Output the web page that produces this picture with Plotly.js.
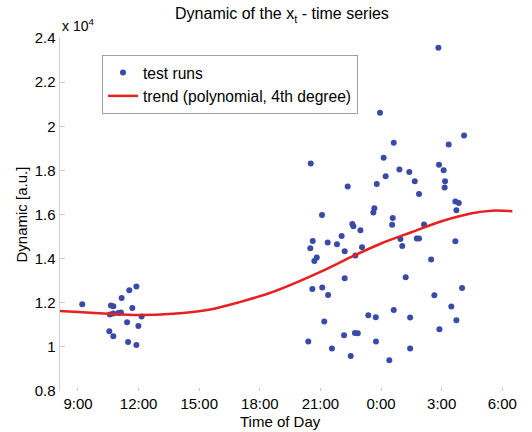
<!DOCTYPE html>
<html>
<head>
<meta charset="utf-8">
<script src="https://cdn.plot.ly/plotly-3.0.1.min.js"></script>
<style>
  html, body { margin: 0; padding: 0; background: #ffffff; }
  #chart { width: 532px; height: 432px; }
</style>
</head>
<body>
<div id="chart"></div>
<script>
// Test runs: hour of day (values above 24 are after midnight) and dynamic [a.u.]
const runHours = [
  9.21, 10.63, 10.75, 11.16, 11.54, 11.89, 11.69, 10.58, 10.75, 11.00,
  11.13, 12.15, 11.43, 11.99, 10.55, 10.75, 11.48, 11.89,
  20.52, 24.63, 24.13, 24.91, 24.23, 23.79, 22.35, 21.08, 23.67, 23.62,
  24.58, 24.55, 22.58, 22.63, 22.98, 22.05, 20.62, 20.50, 21.36, 21.82,
  23.06, 22.20, 22.73, 20.82, 20.70, 22.20, 20.60, 21.09, 21.38, 24.63,
  23.37, 23.74, 21.19, 22.17, 22.71, 22.85, 20.40, 23.75, 21.57, 22.50,
  24.41,
  26.84, 23.95, 28.11, 27.35, 26.87, 25.40, 27.10, 25.67, 27.17, 27.15,
  25.88, 27.68, 27.85, 27.73, 26.13, 24.96, 25.77, 25.88, 25.05, 27.68,
  26.48, 25.22, 28.01, 26.64, 27.48, 25.44, 27.73, 26.89, 25.44
];
const runValues = [
  11930, 11873, 11842, 12218, 12567, 12735, 11765, 11465, 11511, 11538,
  11556, 11375, 11116, 10948, 10708, 10481, 10223, 10087,
  18313, 19247, 18567, 18041, 17737, 17388, 17270, 15982, 16286, 16091,
  15846, 15538, 15574, 15470, 15288, 15030, 14803, 14472, 14730, 14653,
  14517, 14336, 14141, 14050, 13896, 13111, 12626, 12690, 12354, 11674,
  11433, 11343, 11148, 10526, 10631, 10617, 10241, 10241, 9923, 9588,
  9393,
  23556, 20608, 19583, 19175, 18250, 17932, 18009, 17510, 17510, 17225,
  16934, 16590, 16526, 16195, 15547, 14894, 14912, 14912, 14576, 14789,
  13960, 13157, 12672, 12341, 11828, 11329, 11207, 10799, 9923
];

// Trend curve (4th degree polynomial fit)
const trendHours  = [8.11, 9.0, 10.5, 12.0, 13.7, 15.4, 17.0, 18.65, 21.0, 22.5, 24.0, 25.5, 27.0, 28.5, 29.5, 30.5];
const trendValues = [11629, 11583, 11500, 11445, 11500, 11670, 12030, 12490, 13397, 14064, 14685, 15197, 15696, 16059, 16173, 16150];

// Axis ticks
const xTickVals  = [9, 12, 15, 18, 21, 24, 27, 30];
const xTickText  = ['9:00', '12:00', '15:00', '18:00', '21:00', '0:00', '3:00', '6:00'];
const yTickVals  = [8000, 10000, 12000, 14000, 16000, 18000, 20000, 22000, 24000];
const yTickText  = ['0.8', '1', '1.2', '1.4', '1.6', '1.8', '2', '2.2', '2.4'];

const FONT = '"Liberation Sans", Arial, sans-serif';

const traces = [
  {
    x: runHours, y: runValues,
    type: 'scatter', mode: 'markers',
    name: 'test runs',
    marker: { color: '#3a4aa8', size: 6 }
  },
  {
    x: trendHours, y: trendValues,
    type: 'scatter', mode: 'lines',
    name: 'trend (polynomial, 4th degree)',
    line: { color: '#e8201e', width: 2.5, shape: 'spline', smoothing: 0.9 }
  }
];

const layout = {
  width: 532, height: 432,
  margin: { l: 60, r: 14, t: 38, b: 41 },
  paper_bgcolor: '#ffffff', plot_bgcolor: '#ffffff',
  font: { family: FONT, size: 15, color: '#000000' },
  showlegend: true,
  title: {
    text: 'Dynamic of the x<sub>t</sub> - time series',
    font: { family: FONT, size: 16, color: '#000000' },
    xref: 'container', x: 0.53, xanchor: 'center',
    yref: 'container', y: 0.968, yanchor: 'middle'
  },
  xaxis: {
    range: [8.11, 30.78],
    tickvals: xTickVals, ticktext: xTickText,
    showgrid: false, zeroline: false, showline: false,
    ticks: 'inside', ticklen: 3, tickcolor: '#c8c8c8', tickwidth: 1,
    tickfont: { family: FONT, size: 15, color: '#000000' },
    ticklabelstandoff: 2
  },
  yaxis: {
    range: [8000, 24000],
    tickvals: yTickVals, ticktext: yTickText,
    showgrid: false, zeroline: false,
    showline: true, linecolor: '#cfcfcf', linewidth: 1.5,
    ticks: 'inside', ticklen: 5, tickcolor: '#c8c8c8', tickwidth: 1,
    tickfont: { family: FONT, size: 15, color: '#000000' }
  },
  legend: {
    x: 0.0917, y: 0.952, xanchor: 'left', yanchor: 'top',
    bgcolor: '#ffffff', bordercolor: '#a0a0a0', borderwidth: 1,
    font: { family: FONT, size: 15.6, color: '#000000' },
    tracegroupgap: 0
  },
  annotations: [
    {
      text: 'x 10<sup>4</sup>', showarrow: false,
      xref: 'paper', yref: 'paper', x: 0, y: 1, xanchor: 'left', yanchor: 'bottom',
      xshift: 0, yshift: 2,
      font: { family: FONT, size: 14, color: '#000000' }
    },
    {
      text: 'Dynamic [a.u.]', showarrow: false, textangle: -90,
      xref: 'paper', yref: 'paper', x: -0.083, y: 0.5, xanchor: 'center', yanchor: 'middle',
      font: { family: FONT, size: 15, color: '#000000' }
    },
    {
      text: 'Time of Day', showarrow: false,
      xref: 'paper', yref: 'paper', x: 0.4825, y: -0.085, xanchor: 'center', yanchor: 'middle',
      font: { family: FONT, size: 15, color: '#000000' }
    }
  ]
};

Plotly.newPlot('chart', traces, layout, { displayModeBar: false, staticPlot: true });
</script>
</body>
</html>
